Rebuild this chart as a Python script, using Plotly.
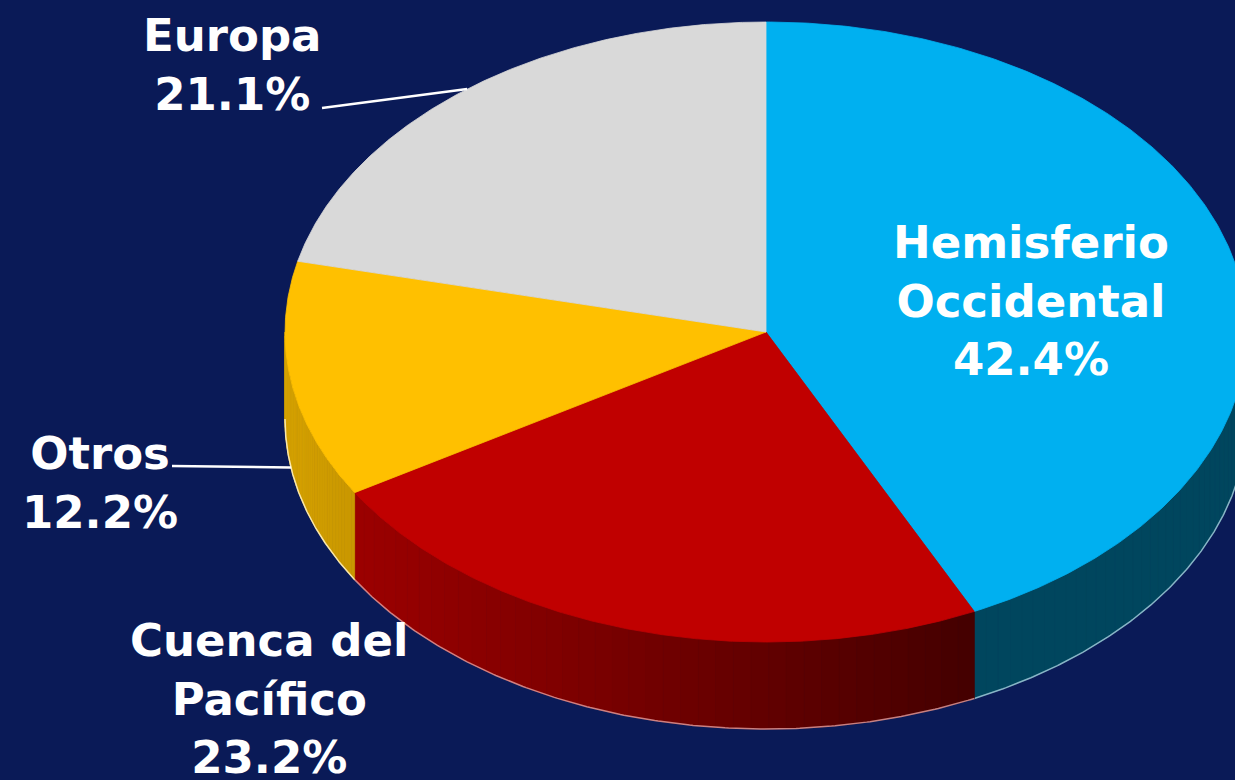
import numpy as np
import plotly.graph_objects as go

# ---------------- data ----------------
categories = ["Hemisferio Occidental", "Cuenca del Pacífico", "Otros", "Europa"]
label_lines = [["Hemisferio", "Occidental"], ["Cuenca del", "Pacífico"], ["Otros"], ["Europa"]]
values = [42.4, 23.2, 12.2, 21.1]

# ---------------- style ----------------
top_colors = ["#00b0f0", "#c00000", "#ffc000", "#d9d9d9"]
side_left = [(0, 70, 94), (156, 0, 0), (214, 162, 0), (160, 160, 160)]
side_right = [(0, 70, 94), (68, 0, 0), (201, 151, 0), (160, 160, 160)]
edge_colors = ["rgba(170,210,225,0.8)", "rgba(230,160,160,0.8)", "rgba(255,240,190,0.9)", "rgba(255,255,255,0.6)"]

W, H = 1235, 780
BG = "#0a1a57"
CX, CY, RX, RY, DEPTH = 766, 332, 481, 310, 87
FONT = dict(family="DejaVu Sans", size=45, color="white", weight="bold")

# label placement (center x, middle y) and leader-line start (label side)
label_pos = [(1031, 301), (269, 699), (100, 483), (232, 65)]
leader_start = [None, None, (172, 466), (322, 108)]


def ell(theta_deg, dy=0.0):
    t = np.radians(theta_deg)
    return CX + RX * np.cos(t), CY - RY * np.sin(t) + dy


fig = go.Figure()

vals = np.array(values, dtype=float)
cum = np.concatenate([[0], np.cumsum(vals / vals.sum())])
a0s = 90 - 360 * cum[:-1]
a1s = 90 - 360 * cum[1:]

# ---- side walls (front half only) ----
for i in range(len(values)):
    lo, hi = max(a1s[i], -180.0), min(a0s[i], 0.0)
    if hi <= lo:
        continue
    n = 40
    ts = np.linspace(lo, hi, n + 1)
    xl, _ = ell(lo)
    xr, _ = ell(hi)
    for k in range(n):
        tt = np.linspace(ts[k], ts[k + 1], 6)
        xt, yt = ell(tt)
        xb, yb = ell(tt[::-1], DEPTH)
        xm = 0.5 * (xt[0] + xt[-1])
        f = 0 if xr == xl else (xm - xl) / (xr - xl)
        c = tuple(int(round(side_left[i][j] + f * (side_right[i][j] - side_left[i][j]))) for j in range(3))
        col = "rgb(%d,%d,%d)" % c
        fig.add_trace(go.Scatter(
            x=np.concatenate([xt, xb, xt[:1]]), y=np.concatenate([yt, yb, yt[:1]]),
            mode="lines", fill="toself", fillcolor=col, line=dict(color=col, width=0.8),
            hoverinfo="skip", showlegend=False))
    tt = np.linspace(lo, hi, 200)
    xb, yb = ell(tt, DEPTH)
    fig.add_trace(go.Scatter(x=xb, y=yb, mode="lines", line=dict(color=edge_colors[i], width=1.5),
                             hoverinfo="skip", showlegend=False))

# ---- top faces ----
for i in range(len(values)):
    tt = np.linspace(a0s[i], a1s[i], 300)
    xt, yt = ell(tt)
    fig.add_trace(go.Scatter(
        x=np.concatenate([[CX], xt, [CX]]), y=np.concatenate([[CY], yt, [CY]]),
        mode="lines", fill="toself", fillcolor=top_colors[i],
        line=dict(color=top_colors[i], width=0.8),
        name=categories[i], hoverinfo="skip", showlegend=False))

# ---- leader lines ----
for i in range(len(values)):
    if leader_start[i] is None:
        continue
    mid = 0.5 * (a0s[i] + a1s[i])
    on_front = np.sin(np.radians(mid)) < 0
    ex, ey = ell(mid, DEPTH if on_front else 0)
    sx, sy = leader_start[i]
    fig.add_trace(go.Scatter(x=[sx, ex], y=[sy, ey], mode="lines",
                             line=dict(color="white", width=2.5),
                             hoverinfo="skip", showlegend=False))

# ---- labels ----
for i in range(len(values)):
    txt = "<br>".join(label_lines[i] + [f"{values[i]:.1f}%"])
    fig.add_annotation(x=label_pos[i][0], y=label_pos[i][1], xref="x", yref="y",
                       text=txt, showarrow=False, font=FONT, align="center",
                       xanchor="center", yanchor="middle")

fig.update_layout(
    width=W, height=H, margin=dict(l=0, r=0, t=0, b=0),
    paper_bgcolor=BG, plot_bgcolor=BG,
    xaxis=dict(range=[0, W], visible=False, fixedrange=True),
    yaxis=dict(range=[H, 0], visible=False, fixedrange=True),
    showlegend=False,
)

fig.write_html("out.html", config={"displayModeBar": False},
               post_script="document.body.style.margin='0';document.body.style.background='%s';" % BG)
